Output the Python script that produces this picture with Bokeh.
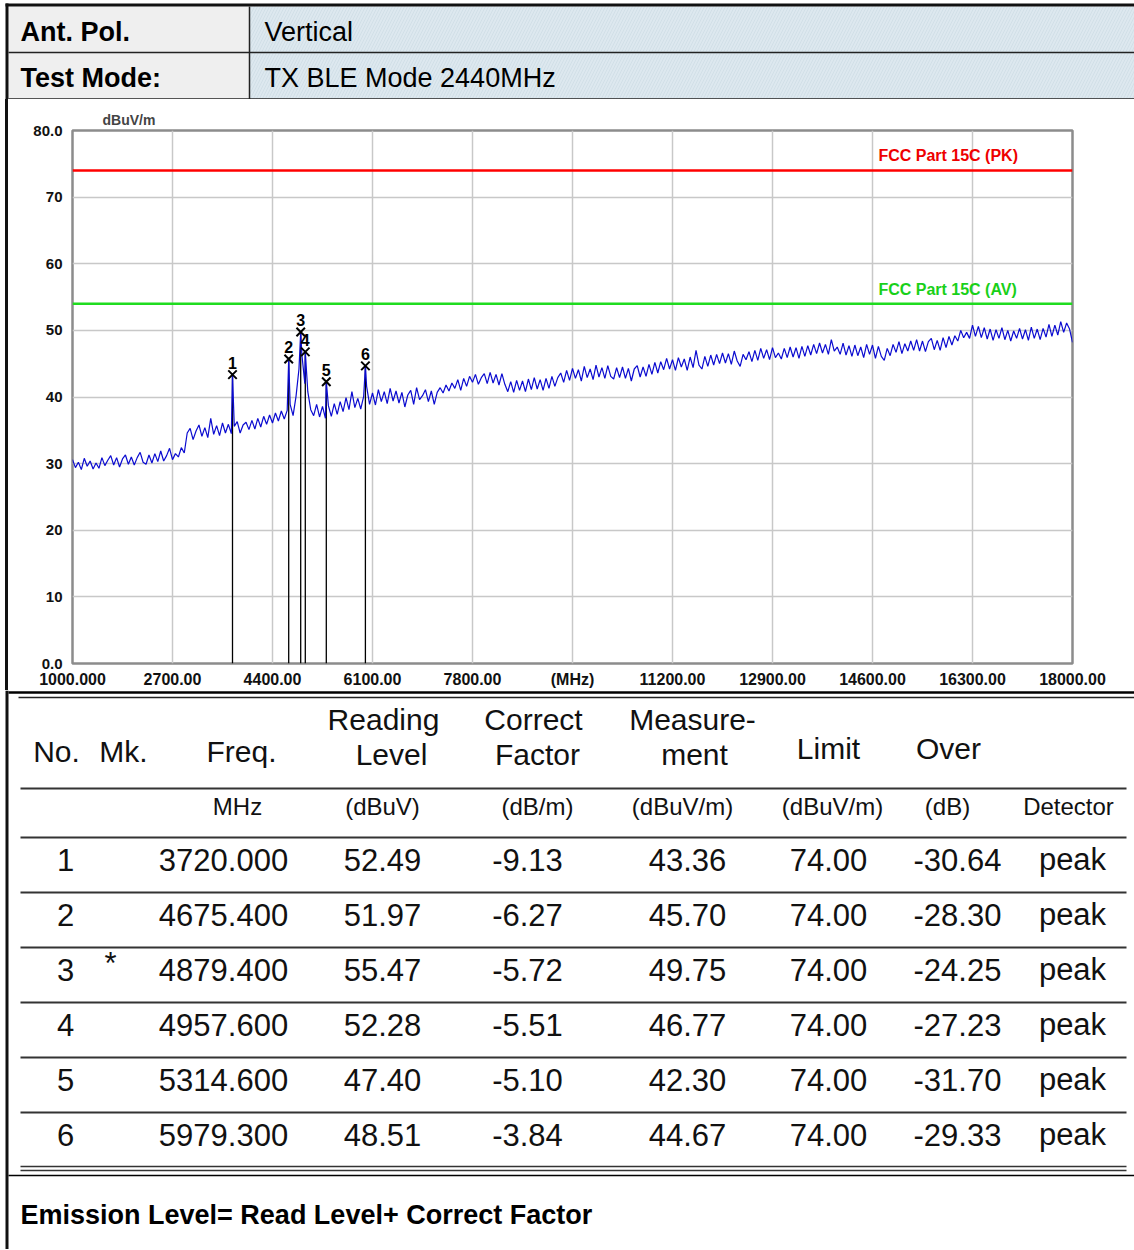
import numpy as np
from bokeh.plotting import figure
from bokeh.layouts import column, row
from bokeh.models import Range1d, FixedTicker, Div, Span
from bokeh.embed import file_html
from bokeh.resources import INLINE
from bokeh.core.properties import value

FONT = "Liberation Sans"

# ---------------- data ----------------
ant_pol = "Vertical"
test_mode = "TX BLE Mode 2440MHz"

sweep_start_mhz = 1000.0
sweep_step_mhz = 50.0
trace_level_dbuv = [
    # 1000 - 1950
    30.6, 29.4, 30.2, 29.1, 30.8, 29.6, 30.4, 29.2, 30.1, 29.3, 30.9, 29.7, 30.5, 31.2, 29.8, 30.9, 29.5, 30.7, 31.3, 29.9,
    # 2000 - 2950
    31.0, 29.8, 30.9, 31.7, 30.2, 29.9, 31.3, 30.1, 31.5, 30.3, 31.9, 30.4, 31.2, 32.3, 30.6, 31.5, 31.0, 32.4, 31.6, 34.6,
    # 3000 - 3950
    35.3, 33.6, 34.9, 35.8, 34.1, 35.4, 33.9, 36.8, 34.4, 35.7, 34.2, 36.1, 34.6, 35.9, 34.5, 35.6, 36.3, 34.6, 35.8, 36.2,
    # 4000 - 4950
    35.1, 36.5, 35.2, 36.8, 35.5, 37.1, 35.9, 37.3, 36.1, 37.6, 36.4, 37.9, 36.7, 38.0, 38.9, 37.2, 40.1, 44.2, 46.3, 42.0,
    # 5000 - 5950
    40.8, 38.1, 37.2, 38.9, 37.0, 38.6, 36.8, 38.7, 37.1, 39.0, 37.4, 39.3, 37.8, 39.9, 38.1, 40.8, 38.4, 39.8, 38.2, 40.1,
    # 6000 - 6950
    41.6, 38.9, 40.6, 38.8, 41.1, 39.3, 40.8, 39.0, 41.3, 39.4, 40.9, 39.1, 40.7, 38.5, 40.3, 41.0, 38.9, 41.4, 39.6, 40.2,
    # 7000 - 7950
    41.1, 39.3, 40.9, 38.9, 40.7, 41.4, 40.6, 41.8, 40.9, 42.1, 41.3, 42.6, 41.0, 42.8, 41.6, 43.1, 42.2, 43.4, 41.9, 42.9,
    # 8000 - 8950
    43.5, 42.0, 43.7, 42.1, 43.4, 41.8, 43.5, 41.9, 40.8, 42.3, 40.7, 42.5, 41.0, 42.4, 40.8, 42.7, 41.1, 42.9, 41.2, 42.6,
    # 9000 - 9950
    41.0, 42.8, 41.3, 43.1, 41.6, 42.9, 43.6, 42.2, 44.0, 42.5, 44.3, 42.8, 44.1, 42.4, 44.6, 42.9, 44.2, 42.6, 44.8, 43.0,
    # 10000 - 10950
    44.4, 42.8, 44.7, 43.1, 42.7, 44.4, 42.9, 44.5, 42.8, 44.3, 42.4, 44.2, 44.7, 43.0, 44.5, 43.1, 44.9, 43.4, 45.2, 43.6,
    # 11000 - 11950
    45.3, 44.1, 45.8, 44.2, 45.6, 44.0, 45.9, 44.5, 45.7, 44.0, 46.0, 44.4, 47.0, 44.8, 44.2, 46.1, 44.6, 46.3, 44.8, 46.4,
    # 12000 - 12950
    45.0, 46.6, 45.1, 46.5, 44.9, 46.9, 45.4, 44.6, 46.4, 45.6, 46.8, 45.3, 47.0, 45.5, 47.3, 45.8, 47.1, 45.6, 47.4, 45.9,
    # 13000 - 13950
    46.6, 45.7, 47.3, 45.9, 47.5, 46.0, 47.4, 45.8, 47.6, 46.1, 47.7, 46.3, 47.9, 46.5, 48.1, 46.6, 47.9, 46.4, 48.6, 46.9,
    # 14000 - 14950
    47.5, 46.4, 48.1, 46.3, 47.7, 46.1, 47.8, 46.2, 47.5, 45.9, 47.9, 46.4, 47.8, 45.8, 47.6, 46.1, 45.5, 47.3, 46.2, 47.9,
    # 15000 - 15950
    46.7, 48.3, 46.5, 48.0, 46.9, 48.4, 47.0, 48.6, 46.9, 48.4, 46.8, 48.3, 48.8, 47.1, 48.5, 47.0, 48.9, 47.4, 49.1, 47.8,
    # 16000 - 16950
    49.2, 48.4, 50.0, 48.9, 49.7, 48.8, 50.8, 49.1, 50.6, 48.9, 50.4, 48.7, 50.2, 48.5, 50.1, 48.8, 50.4, 48.6, 50.0, 48.4,
    # 17000 - 17950
    49.9, 48.8, 50.3, 48.7, 50.1, 48.5, 50.5, 48.8, 50.2, 48.6, 50.3, 49.0, 50.9, 49.1, 50.8, 49.3, 51.3, 49.7, 51.1, 50.2,
    # 18000
    48.2,
]
assert len(trace_level_dbuv) == 341

pk_limit = 74.0
av_limit = 54.0
pk_label = "FCC Part 15C (PK)"
av_label = "FCC Part 15C (AV)"

marker_no = [1, 2, 3, 4, 5, 6]
marker_mk = ["", "", "*", "", "", ""]
marker_freq = [3720.000, 4675.400, 4879.400, 4957.600, 5314.600, 5979.300]
reading_level = [52.49, 51.97, 55.47, 52.28, 47.40, 48.51]
correct_factor = [-9.13, -6.27, -5.72, -5.51, -5.10, -3.84]
measurement = [43.36, 45.70, 49.75, 46.77, 42.30, 44.67]
limit_val = [74.00, 74.00, 74.00, 74.00, 74.00, 74.00]
over_val = [-30.64, -28.30, -24.25, -27.23, -31.70, -29.33]
detector = ["peak", "peak", "peak", "peak", "peak", "peak"]

x_ticks = [1000, 2700, 4400, 6100, 7800, 9500, 11200, 12900, 14600, 16300, 18000]
x_tick_labels = ["1000.000", "2700.00", "4400.00", "6100.00", "7800.00", "(MHz)",
                 "11200.00", "12900.00", "14600.00", "16300.00", "18000.00"]
y_ticks = [0, 10, 20, 30, 40, 50, 60, 70, 80]
y_tick_labels = ["0.0", "10", "20", "30", "40", "50", "60", "70", "80.0"]

W = 1134

# ---------------- header ----------------
hdr = figure(width=W, height=99, x_range=Range1d(0, W), y_range=Range1d(99, 0),
             output_backend="svg", toolbar_location=None, min_border=0,
             x_axis_location=None, y_axis_location=None)
hdr.grid.visible = False
hdr.outline_line_color = None
hdr.background_fill_color = "white"
hdr.border_fill_color = "white"
hdr.quad(left=[8], right=[249], top=[6], bottom=[99], fill_color="#efefef", line_color=None)
hdr.quad(left=[249], right=[W], top=[6], bottom=[99], fill_color="#dde8ef", line_color=None,
         hatch_pattern="/", hatch_color="#c4d4de", hatch_scale=6, hatch_weight=0.6, hatch_alpha=0.8)
hdr.quad(left=[5], right=[W], top=[3], bottom=[6], fill_color="#111111", line_color=None)
hdr.quad(left=[5], right=[8], top=[3], bottom=[99], fill_color="#111111", line_color=None)
hdr.segment(x0=[8, 8, 249], y0=[52, 98.5, 6], x1=[W, W, 249], y1=[52, 98.5, 99],
            line_color="#222222", line_width=1.5)
hdr.text(x=[20, 20], y=[31, 77], text=["Ant. Pol.", "Test Mode:"], text_font=value(FONT),
         text_font_style="bold", text_font_size="27px", text_baseline="middle", text_color="black")
hdr.text(x=[264, 264], y=[31, 77], text=[ant_pol, test_mode], text_font=value(FONT),
         text_font_size="27px", text_baseline="middle", text_color="black")

# ---------------- chart ----------------
p = figure(width=W - 8, height=591, x_range=Range1d(1000, 18000), y_range=Range1d(0, 80),
           output_backend="svg", toolbar_location=None,
           min_border_left=64, min_border_right=62, min_border_top=31, min_border_bottom=25)
p.background_fill_color = "white"
p.border_fill_color = "white"
p.outline_line_color = "#8c8c8c"
p.outline_line_width = 2.5

p.title.text = "dBuV/m"
p.title.align = "left"
p.title.offset = 30
p.title.standoff = 6
p.title.text_font = FONT
p.title.text_font_size = "14px"
p.title.text_font_style = "bold"

p.xaxis.ticker = FixedTicker(ticks=x_ticks)
p.xaxis.major_label_overrides = {t: s for t, s in zip(x_ticks, x_tick_labels)}
p.yaxis.ticker = FixedTicker(ticks=y_ticks)
p.yaxis.major_label_overrides = {t: s for t, s in zip(y_ticks, y_tick_labels)}
for ax in (p.xaxis[0], p.yaxis[0]):
    ax.axis_line_color = None
    ax.major_tick_line_color = None
    ax.minor_tick_line_color = None
    ax.major_tick_out = 0
    ax.major_tick_in = 0
    ax.minor_tick_out = 0
    ax.major_label_text_font = FONT
    ax.major_label_text_font_style = "bold"
    ax.major_label_text_color = "#111111"
p.xaxis.major_label_text_font_size = "16px"
p.yaxis.major_label_text_font_size = "15px"
p.xaxis.major_label_standoff = 7
p.yaxis.major_label_standoff = 10

p.xgrid.ticker = FixedTicker(ticks=x_ticks[1:-1])
p.ygrid.ticker = FixedTicker(ticks=y_ticks[1:-1])
p.grid.grid_line_color = "#c8c8c8"
p.grid.grid_line_width = 1.5

p.add_layout(Span(location=pk_limit, dimension="width", line_color="#ff0000", line_width=2.5))
p.add_layout(Span(location=av_limit, dimension="width", line_color="#1fdc1f", line_width=2.5))
p.text(x=[14700], y=[pk_limit], text=[pk_label], text_color="#ee0000", text_font=value(FONT),
       text_font_style="bold", text_font_size="16px", text_baseline="bottom", y_offset=-6)
p.text(x=[14700], y=[av_limit], text=[av_label], text_color="#19d019", text_font=value(FONT),
       text_font_style="bold", text_font_size="16px", text_baseline="bottom", y_offset=-6)

# marker drop lines
p.segment(x0=marker_freq, y0=[0] * len(marker_freq), x1=marker_freq, y1=measurement,
          line_color="black", line_width=1.3)

# trace (sweep points merged with marker peaks)
trace_freq = sweep_start_mhz + sweep_step_mhz * np.arange(len(trace_level_dbuv))
all_f = np.concatenate([trace_freq, np.array(marker_freq)])
all_l = np.concatenate([np.array(trace_level_dbuv), np.array(measurement)])
order = np.argsort(all_f, kind="stable")
p.line(all_f[order], all_l[order], line_color="#0b0bd0", line_width=1.2)

p.scatter(marker_freq, measurement, marker="x", size=12, line_width=2, line_color="black")
p.text(x=marker_freq, y=measurement, text=[str(n) for n in marker_no], text_align="center",
       text_baseline="bottom", y_offset=-6, text_font=value(FONT), text_font_style="bold",
       text_font_size="16px", text_color="black")

strip = Div(width=8, height=591, margin=(0, 0, 0, 0),
            styles={"background": "linear-gradient(90deg, #ffffff 5px, #111111 5px)"})

# ---------------- result table ----------------
tbl = figure(width=W, height=559, x_range=Range1d(0, W), y_range=Range1d(1249, 690),
             output_backend="svg", toolbar_location=None, min_border=0,
             x_axis_location=None, y_axis_location=None)
tbl.grid.visible = False
tbl.outline_line_color = None
tbl.background_fill_color = "white"
tbl.border_fill_color = "white"
tbl.quad(left=[5], right=[8], top=[690], bottom=[1249], fill_color="#111111", line_color=None)

row_y0 = 859
row_pitch = 55.0
rule_y = [788, 837] + [837 + row_pitch * (i + 1) for i in range(5)]
tbl.segment(x0=[8], y0=[692], x1=[W], y1=[692], line_color="black", line_width=2.5)
tbl.segment(x0=[18], y0=[697], x1=[W], y1=[697], line_color="#222222", line_width=1.5)
tbl.segment(x0=[20] * len(rule_y), y0=rule_y, x1=[1126] * len(rule_y), y1=rule_y,
            line_color="#333333", line_width=2)
tbl.segment(x0=[20, 20], y0=[1166, 1170], x1=[1126, 1126], y1=[1166, 1170],
            line_color="#333333", line_width=1.5)
tbl.segment(x0=[8], y0=[1175], x1=[W], y1=[1175], line_color="black", line_width=1.5)

hdr_txt = ["No.", "Mk.", "Freq.", "Reading", "Level", "Correct", "Factor",
           "Measure-", "ment", "Limit", "Over"]
hdr_x = [56, 123, 241, 383, 391, 533, 537, 692, 694, 828, 948]
hdr_y = [751, 751, 751, 719, 754, 719, 754, 719, 754, 748, 748]
tbl.text(x=hdr_x, y=hdr_y, text=hdr_txt, text_align="center", text_baseline="middle",
         text_font=value(FONT), text_font_size="30px", text_color="#111111")

unit_txt = ["MHz", "(dBuV)", "(dB/m)", "(dBuV/m)", "(dBuV/m)", "(dB)", "Detector"]
unit_x = [237, 382, 537, 682, 832, 947, 1068]
tbl.text(x=unit_x, y=[806] * len(unit_x), text=unit_txt, text_align="center",
         text_baseline="middle", text_font=value(FONT), text_font_size="24px", text_color="#111111")

col_x = [65, 110, 223, 382, 527, 687, 828, 957, 1072]
for i in range(len(marker_no)):
    cells = [str(marker_no[i]), marker_mk[i], f"{marker_freq[i]:.3f}", f"{reading_level[i]:.2f}",
             f"{correct_factor[i]:.2f}", f"{measurement[i]:.2f}", f"{limit_val[i]:.2f}",
             f"{over_val[i]:.2f}", detector[i]]
    ys = [row_y0 + row_pitch * i] * len(cells)
    ys[1] = ys[1] - 6
    tbl.text(x=col_x, y=ys, text=cells, text_align="center", text_baseline="middle",
             text_font=value(FONT), text_font_size="31px", text_color="#111111")

tbl.text(x=[20], y=[1214], text=["Emission Level= Read Level+ Correct Factor"],
         text_baseline="middle", text_font=value(FONT), text_font_style="bold",
         text_font_size="27px", text_color="black")

layout = column(hdr, row(strip, p), tbl)
open("out.html", "w").write(file_html(layout, INLINE))
